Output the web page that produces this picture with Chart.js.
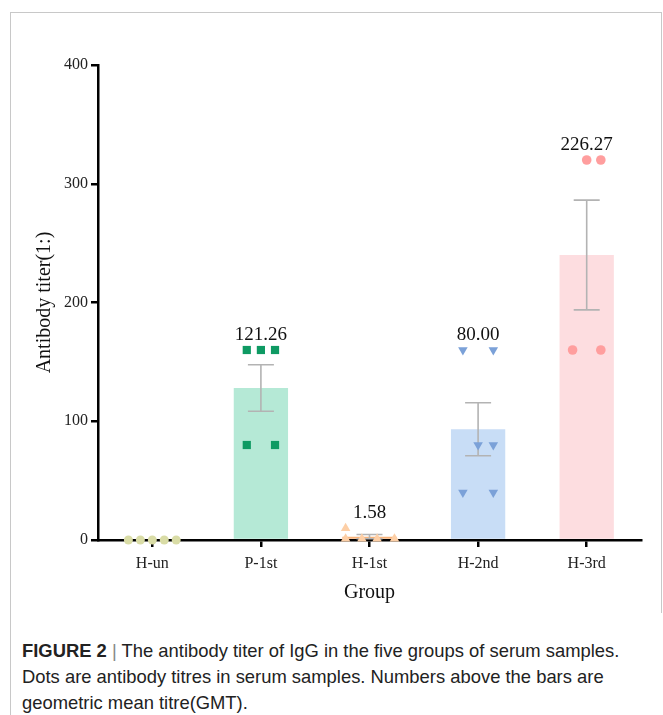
<!DOCTYPE html>
<html>
<head>
<meta charset="utf-8">
<script src="https://cdn.jsdelivr.net/npm/chart.js@4/dist/chart.umd.min.js"></script>
<style>
  html, body { margin: 0; padding: 0; background: #fff; width: 663px; height: 715px; overflow: hidden; }
  #frame { position: absolute; left: 10px; top: 12px; width: 650px; height: 600px;
    border: 1px solid #c8c8c8; border-bottom: none; }
  #leftline { position: absolute; left: 10px; top: 612px; width: 0; height: 110px; border-left: 1px solid #c8c8c8; }
  #wrap { position: absolute; left: 0; top: 0; width: 663px; height: 612px; }
  #cap { position: absolute; left: 22px; top: 638px; width: 640px; font-family: "Liberation Sans", Arial, sans-serif;
    font-size: 18.4px; line-height: 26px; color: #222; white-space: nowrap; }
  #cap b { font-weight: bold; }
  #cap .bar { color: #888; font-weight: normal; }
</style>
</head>
<body>
<div id="frame"></div>
<div id="leftline"></div>
<div id="wrap"><canvas id="c" width="663" height="612"></canvas></div>
<div id="cap"><b>FIGURE 2</b> <span class="bar">|</span> The antibody titer of IgG in the five groups of serum samples.<br>Dots are antibody titres in serum samples. Numbers above the bars are<br>geometric mean titre(GMT).</div>
<script>
"use strict";

// Grupos e valores
const GRUPOS = ["H-un", "P-1st", "H-1st", "H-2nd", "H-3rd"];
const MEDIAS = [0, 128, 2.8, 93.3, 240];
const SEM = [0, 19.6, 1.8, 22.3, 46.2];
const GMT = ["", "121.26", "1.58", "80.00", "226.27"];

// titulos individuais por grupo
const PTS_HUN = [0, 0, 0, 0, 0];
const PTS_P1 = [160, 160, 160, 80, 80];
const PTS_H1 = [10, 1, 1, 1, 1];
const PTS_H2 = [160, 160, 80, 80, 40, 40];
const PTS_H3 = [320, 320, 160, 160];

// deslocamento horizontal dos pontos (fração da categoria)
const JIT_HUN = [-0.22, -0.11, 0, 0.11, 0.22];
const JIT_P1 = [-0.13, 0, 0.13, -0.13, 0.13];
const JIT_H1 = [-0.22, -0.22, -0.07, 0.07, 0.23];
const JIT_H2 = [-0.14, 0.14, 0, 0.14, -0.14, 0.14];
const JIT_H3 = [0, 0.13, -0.13, 0.13];

const COR_BARRA = ["#e3e5bd", "#b5e9d6", "#f7b27a", "#c8ddf6", "#fddde0"];
const SERIF = "'Liberation Serif', 'Times New Roman', serif";

function pontos(vals, jit, g) {
  return vals.map((v, i) => ({ x: g + jit[i], y: v }));
}

function serie(vals, jit, g, cor, estilo, raio, rot) {
  return {
    type: "scatter", xAxisID: "x2", order: 0, clip: false,
    data: pontos(vals, jit, g),
    pointStyle: estilo, pointRadius: raio, pointHoverRadius: raio, rotation: rot || 0,
    backgroundColor: cor, borderWidth: 0,
  };
}

// barras de erro (média ± EPM), desenhadas logo após as barras
const errorBars = {
  id: "errorBars",
  afterDatasetDraw(chart, args) {
    if (args.index !== 0) return;
    const { ctx, scales } = chart;
    ctx.save();
    ctx.strokeStyle = "#b3b3b3";
    ctx.lineWidth = 1.6;
    MEDIAS.forEach((m, i) => {
      if (!m) return;
      const x = scales.x.getPixelForValue(i);
      const y1 = scales.y.getPixelForValue(m + SEM[i]);
      const y2 = scales.y.getPixelForValue(Math.max(m - SEM[i], 0));
      ctx.beginPath();
      ctx.moveTo(x, y1); ctx.lineTo(x, y2);
      ctx.moveTo(x - 13, y1); ctx.lineTo(x + 13, y1);
      ctx.moveTo(x - 13, y2); ctx.lineTo(x + 13, y2);
      ctx.stroke();
    });
    ctx.restore();
  },
};

// rótulos de GMT acima do maior ponto de cada grupo
const rotulos = {
  id: "rotulos",
  afterDatasetsDraw(chart) {
    const { ctx, scales } = chart;
    const maximos = [PTS_HUN, PTS_P1, PTS_H1, PTS_H2, PTS_H3].map((a) => Math.max(...a));
    ctx.save();
    ctx.font = "19px " + SERIF;
    ctx.fillStyle = "#111";
    ctx.textAlign = "center";
    ctx.textBaseline = "middle";
    GMT.forEach((t, i) => {
      if (!t) return;
      ctx.fillText(t, scales.x.getPixelForValue(i), scales.y.getPixelForValue(maximos[i]) - 15);
    });
    ctx.restore();
  },
};

new Chart(document.getElementById("c"), {
  type: "bar",
  data: {
    labels: GRUPOS,
    datasets: [
      { type: "bar", order: 10, data: MEDIAS, backgroundColor: COR_BARRA, borderWidth: 0,
        grouped: false, barPercentage: 0.5, categoryPercentage: 1 },
      serie(PTS_HUN, JIT_HUN, 0, "#d9dca6", "circle", 4.5),
      serie(PTS_P1, JIT_P1, 1, "#0e9a63", "rect", 5.8),
      serie(PTS_H1, JIT_H1, 2, "#fdcfa6", "triangle", 5.5),
      serie(PTS_H2, JIT_H2, 3, "#7ba1d8", "triangle", 5.5, 180),
      serie(PTS_H3, JIT_H3, 4, "#ff9e9e", "circle", 4.8),
    ],
  },
  options: {
    responsive: false,
    animation: false,
    events: [],
    layout: { padding: { left: 20, right: 22, top: 65, bottom: 0 } },
    plugins: { legend: { display: false }, tooltip: { enabled: false } },
    scales: {
      x: {
        offset: true,
        grid: { offset: false, drawOnChartArea: false, drawTicks: true, tickLength: 7, color: "#000", lineWidth: 2.5 },
        border: { display: true, color: "#000", width: 2.5 },
        ticks: { color: "#222", padding: 7, font: { family: SERIF, size: 16 } },
        title: { display: true, text: "Group", color: "#111", padding: { top: 0, bottom: 7 }, font: { family: SERIF, size: 20 } },
        afterFit(s) { s.height = 72; },
      },
      x2: { type: "linear", min: -0.5, max: 4.5, offset: false, grid: { offset: false }, display: false },
      y: {
        min: 0, max: 400,
        grid: { drawOnChartArea: false, drawTicks: true, tickLength: 7, color: "#000", lineWidth: 2.5 },
        border: { display: true, color: "#000", width: 2.5 },
        ticks: { stepSize: 100, color: "#222", padding: 3, font: { family: SERIF, size: 16 } },
        title: { display: true, text: "Antibody titer(1:)", color: "#111", padding: { top: 13, bottom: 0 }, font: { family: SERIF, size: 20 } },
        afterFit(s) { s.width = 78; },
      },
    },
  },
  plugins: [errorBars, rotulos],
});
</script>
</body>
</html>
